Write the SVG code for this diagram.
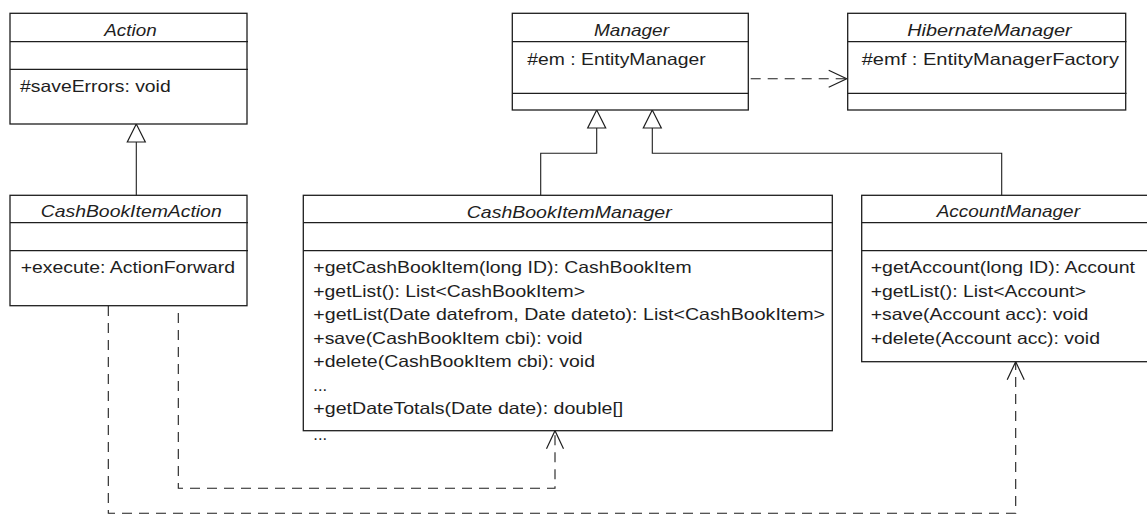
<svg xmlns="http://www.w3.org/2000/svg" width="1147" height="515" viewBox="0 0 1147 515">
  <style>
    .box { fill: #ffffff; stroke: #1e1e1e; stroke-width: 1.3; }
    .div { stroke: #1e1e1e; stroke-width: 1.2; }
    .t { font-family: "Liberation Sans", Arial, sans-serif; font-size: 16.5px; fill: #1e1e1e; }
    .title { font-style: italic; }
    .solid { fill: none; stroke: #1e1e1e; stroke-width: 1.1; }
    .dash { fill: none; stroke: #1e1e1e; stroke-width: 1.1; stroke-dasharray: 10 7; }
  </style>
  <defs>
    <!-- hollow triangle for generalization -->
    <marker id="gen" markerUnits="userSpaceOnUse" viewBox="-20 -11 22 22" markerWidth="22" markerHeight="22" refX="0" refY="0" orient="auto">
      <path d="M0,0 L-18,-9 L-18,9 Z" fill="#ffffff" stroke="#1e1e1e" stroke-width="1.2"/>
    </marker>
    <!-- open arrowhead for dependencies -->
    <marker id="dep" markerUnits="userSpaceOnUse" viewBox="-20 -11 22 22" markerWidth="22" markerHeight="22" refX="0" refY="0" orient="auto">
      <path d="M-18,-8.5 L0,0 L-18,8.5" fill="none" stroke="#1e1e1e" stroke-width="1.2"/>
    </marker>
  </defs>

  <rect width="1147" height="515" fill="#ffffff"/>

  <g id="connectors">
    <path class="solid" d="M136.3 195.5 V124" marker-end="url(#gen)"/>
    <path class="solid" d="M540.7 195 V153.3 H596.7 V110" marker-end="url(#gen)"/>
    <path class="solid" d="M1001.7 195 V153.3 H652.3 V110" marker-end="url(#gen)"/>
    <path class="dash" d="M750.7 78.7 H846.7" marker-end="url(#dep)"/>
    <path class="dash" d="M178.3 313 V488.3 H555 V430.7" marker-end="url(#dep)"/>
    <path class="dash" d="M108.3 306 V513.3 H1015.7 V361.7" marker-end="url(#dep)"/>
  </g>

  <g id="action">
    <rect class="box" x="10" y="13.3" width="237" height="110.7"/>
    <line class="div" x1="10" y1="41.7" x2="248" y2="41.7"/>
    <line class="div" x1="10" y1="69.3" x2="248" y2="69.3"/>
    <text class="t title" x="104.3" y="36" textLength="52.4" lengthAdjust="spacingAndGlyphs">Action</text>
    <text class="t" x="20" y="91.5" textLength="150.7" lengthAdjust="spacingAndGlyphs">#saveErrors: void</text>
  </g>

  <g id="cashBookItemAction">
    <rect class="box" x="10" y="195.3" width="237" height="110.4"/>
    <line class="div" x1="10" y1="222.7" x2="248" y2="222.7"/>
    <line class="div" x1="10" y1="250.7" x2="248" y2="250.7"/>
    <text class="t title" x="40.7" y="217.2" textLength="181" lengthAdjust="spacingAndGlyphs">CashBookItemAction</text>
    <text class="t" x="20.7" y="273.4" textLength="214.3" lengthAdjust="spacingAndGlyphs">+execute: ActionForward</text>
  </g>

  <g id="manager">
    <rect class="box" x="512.3" y="13.3" width="236" height="96.7"/>
    <line class="div" x1="512.3" y1="41.7" x2="749" y2="41.7"/>
    <line class="div" x1="512.3" y1="93.3" x2="749" y2="93.3"/>
    <text class="t title" x="594" y="36" textLength="75" lengthAdjust="spacingAndGlyphs">Manager</text>
    <text class="t" x="527.3" y="64.5" textLength="178.3" lengthAdjust="spacingAndGlyphs">#em : EntityManager</text>
  </g>

  <g id="hibernateManager">
    <rect class="box" x="847.7" y="13.3" width="278" height="96.7"/>
    <line class="div" x1="847.7" y1="41.7" x2="1126.5" y2="41.7"/>
    <line class="div" x1="847.7" y1="93.3" x2="1126.5" y2="93.3"/>
    <text class="t title" x="907.3" y="36" textLength="164.3" lengthAdjust="spacingAndGlyphs">HibernateManager</text>
    <text class="t" x="861.7" y="64.5" textLength="257.3" lengthAdjust="spacingAndGlyphs">#emf : EntityManagerFactory</text>
  </g>

  <g id="cashBookItemManager">
    <rect class="box" x="303.3" y="195.3" width="529" height="235.4"/>
    <line class="div" x1="303.3" y1="222.7" x2="833" y2="222.7"/>
    <line class="div" x1="303.3" y1="250.7" x2="833" y2="250.7"/>
    <text class="t title" x="466.7" y="217.5" textLength="205" lengthAdjust="spacingAndGlyphs">CashBookItemManager</text>
    <text class="t" x="313.3" y="273.4" textLength="378.3" lengthAdjust="spacingAndGlyphs">+getCashBookItem(long ID): CashBookItem</text>
    <text class="t" x="313.3" y="296.8" textLength="271.7" lengthAdjust="spacingAndGlyphs">+getList(): List&lt;CashBookItem&gt;</text>
    <text class="t" x="313.3" y="320.2" textLength="511.7" lengthAdjust="spacingAndGlyphs">+getList(Date datefrom, Date dateto): List&lt;CashBookItem&gt;</text>
    <text class="t" x="313.3" y="343.6" textLength="269.3" lengthAdjust="spacingAndGlyphs">+save(CashBookItem cbi): void</text>
    <text class="t" x="313.3" y="367" textLength="281.7" lengthAdjust="spacingAndGlyphs">+delete(CashBookItem cbi): void</text>
    <text class="t" x="313.3" y="391">...</text>
    <text class="t" x="313.3" y="414.2" textLength="310" lengthAdjust="spacingAndGlyphs">+getDateTotals(Date date): double[]</text>
    <text class="t" x="313.3" y="439.5">...</text>
  </g>

  <g id="accountManager">
    <rect class="box" x="861.7" y="195.3" width="300" height="166.4"/>
    <line class="div" x1="861.7" y1="222.7" x2="1147" y2="222.7"/>
    <line class="div" x1="861.7" y1="250.7" x2="1147" y2="250.7"/>
    <text class="t title" x="936.7" y="217" textLength="143.3" lengthAdjust="spacingAndGlyphs">AccountManager</text>
    <text class="t" x="870.7" y="273.4" textLength="264.3" lengthAdjust="spacingAndGlyphs">+getAccount(long ID): Account</text>
    <text class="t" x="870.7" y="296.8" textLength="215.3" lengthAdjust="spacingAndGlyphs">+getList(): List&lt;Account&gt;</text>
    <text class="t" x="870.7" y="320.2" textLength="217.7" lengthAdjust="spacingAndGlyphs">+save(Account acc): void</text>
    <text class="t" x="870.7" y="343.6" textLength="229.3" lengthAdjust="spacingAndGlyphs">+delete(Account acc): void</text>
  </g>
</svg>
